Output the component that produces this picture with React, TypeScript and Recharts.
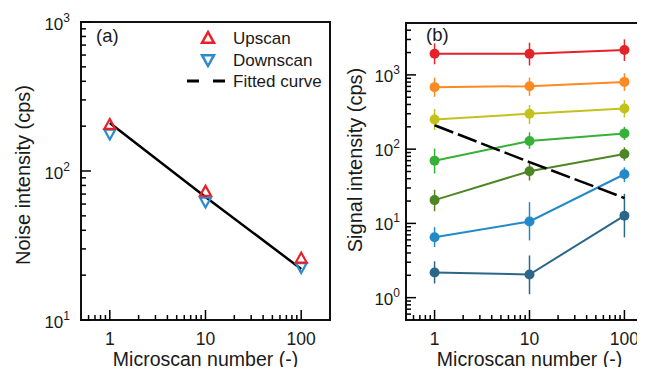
import React from 'react';
import { ComposedChart, Line, XAxis, YAxis, ReferenceArea, ErrorBar, Legend } from 'recharts';

const FONT = '"Liberation Sans", Arial, Helvetica, sans-serif';
const INK = '#1a1a1a';

// microscan numbers (x for both panels)
const scans = [1, 10, 100];

// panel (a): noise intensity
const noiseUp = [205, 73, 26];
const noiseDown = [177, 62, 22.5];
const fitted = [210, 67, 22];

// panel (b): signal intensity, errors as [minus, plus]
const sigRed = [1930, 1920, 2170];
const sigRedErr = [[540, 730], [580, 790], [630, 840]];
const sigOrange = [684, 705, 805];
const sigOrangeErr = [[177, 236], [183, 215], [195, 249]];
const sigYellow = [251, 300, 353];
const sigYellowErr = [[70, 96], [82, 92], [86, 104]];
const sigGreen = [70, 129, 163];
const sigGreenErr = [[23, 32], [28, 39], [30, 37]];
const sigOlive = [20.6, 50.4, 86];
const sigOliveErr = [[6, 7.8], [12.6, 16.1], [16, 20]];
const sigBlue = [6.5, 10.6, 45.9];
const sigBlueErr = [[1.7, 2.4], [4.7, 8.7], [10, 11]];
const sigTeal = [2.18, 2.05, 12.7];
const sigTealErr = [[0.63, 0.91], [0.94, 1.65], [6.2, 12.3]];

// ticks
const xTicks = [0.6, 0.7, 0.8, 0.9, 1, 2, 3, 4, 5, 6, 7, 8, 9, 10, 20, 30, 40, 50, 60, 70, 80, 90, 100];
const xMajor = [1, 10, 100];
const noiseTicks = [10, 20, 30, 40, 50, 60, 70, 80, 90, 100, 200, 300, 400, 500, 600, 700, 800, 900, 1000];
const noiseMajor = [10, 100, 1000];
const signalTicks = [
  0.6, 0.7, 0.8, 0.9, 1, 2, 3, 4, 5, 6, 7, 8, 9, 10, 20, 30, 40, 50, 60, 70, 80, 90,
  100, 200, 300, 400, 500, 600, 700, 800, 900, 1000, 2000, 3000, 4000,
];
const signalMajor = [1, 10, 100, 1000];

const signalLines = [
  { key: 'red', color: '#e3222a', values: sigRed, err: sigRedErr },
  { key: 'orange', color: '#fb8a22', values: sigOrange, err: sigOrangeErr },
  { key: 'yellow', color: '#c3c21c', values: sigYellow, err: sigYellowErr },
  { key: 'green', color: '#36b036', values: sigGreen, err: sigGreenErr },
  { key: 'olive', color: '#4e8626', values: sigOlive, err: sigOliveErr },
  { key: 'blue', color: '#2389c9', values: sigBlue, err: sigBlueErr },
  { key: 'teal', color: '#2c6689', values: sigTeal, err: sigTealErr },
];

const noiseRows = scans.map((x, i) => ({ x, up: noiseUp[i], down: noiseDown[i], fit: fitted[i] }));

const signalRows = scans.map((x, i) => {
  const row: any = { x, fit: fitted[i] };
  signalLines.forEach((s) => {
    row[s.key] = s.values[i];
    row[s.key + 'Err'] = s.err[i];
  });
  return row;
});

const RED = '#e8202a';
const BLUE = '#2a8ccd';

function XTick(props: any) {
  const { x, y, payload } = props;
  const v = payload.value;
  const major = xMajor.includes(v);
  return (
    <g>
      <line x1={x} x2={x} y1={y} y2={y - (major ? 10 : 5)} stroke="#000" strokeWidth={1.5} />
      {major && (
        <text x={x} y={y + 25} textAnchor="middle" fontSize={17.5} fontFamily={FONT} fill={INK}>
          {v}
        </text>
      )}
    </g>
  );
}

function yTick(majors: number[], gap: number, drop: number) {
  return (props: any) => {
    const { x, y, payload } = props;
    const v = payload.value;
    const major = majors.includes(v);
    const exp = Math.round(Math.log10(v));
    return (
      <g>
        <line x1={x} x2={x + (major ? 10 : 5)} y1={y} y2={y} stroke="#000" strokeWidth={1.5} />
        {major && (
          <text x={x - gap} y={y + drop} textAnchor="end" fontSize={17} fontFamily={FONT} fill={INK}>
            10
            <tspan dy={-8} fontSize={12}>
              {exp}
            </tspan>
          </text>
        )}
      </g>
    );
  };
}

function Title({ px, py, text, rotate, size = 20 }: any) {
  return (
    <text
      x={px}
      y={py}
      textAnchor="middle"
      transform={rotate ? `rotate(-90 ${px} ${py})` : undefined}
      fontSize={size}
      fontFamily={FONT}
      fill={INK}
    >
      {text}
    </text>
  );
}

function Tag({ px, py, text }: any) {
  return (
    <text x={px} y={py} fontSize={18.5} fontFamily={FONT} fill={INK}>
      {text}
    </text>
  );
}

const upPath = (cx: number, cy: number, s = 5.5) =>
  `M${cx},${cy - s}L${cx - s},${cy + s * 0.8}L${cx + s},${cy + s * 0.8}Z`;
const downPath = (cx: number, cy: number, s = 5.5) =>
  `M${cx - s},${cy - s * 0.8}L${cx + s},${cy - s * 0.8}L${cx},${cy + s}Z`;

function NoiseLegend() {
  return (
    <svg width={150} height={70} style={{ display: 'block' }}>
      <path d={upPath(28, 13, 6)} fill="none" stroke={RED} strokeWidth={2.5} />
      <text x={53} y={19} fontSize={17} fontFamily={FONT} fill={INK}>Upscan</text>
      <path d={downPath(28, 35, 6)} fill="none" stroke={BLUE} strokeWidth={2.5} />
      <text x={53} y={41} fontSize={17} fontFamily={FONT} fill={INK}>Downscan</text>
      <line x1={7} x2={46} y1={56} y2={56} stroke="#000" strokeWidth={3} strokeDasharray="12 14" />
      <text x={53} y={62} fontSize={17} fontFamily={FONT} fill={INK}>Fitted curve</text>
    </svg>
  );
}

export default function App() {
  return (
    <div style={{ position: 'relative', width: 645, height: 375, margin: -8, overflow: 'hidden', background: '#fff' }}>
      <div style={{ position: 'absolute', left: 0, top: 0 }}>
        <ComposedChart width={340} height={375} data={noiseRows} margin={{ top: 22, right: 10, bottom: 0, left: 0 }}>
          <XAxis
            dataKey="x"
            type="number"
            scale="log"
            domain={[0.5, 200]}
            ticks={xTicks}
            interval={0}
            tick={XTick}
            tickSize={0}
            tickMargin={0}
            tickLine={false}
            axisLine={false}
            height={55}
            allowDataOverflow
            label={<Title px={205.5} py={366} size={19.5} text="Microscan number (-)" />}
          />
          <YAxis
            type="number"
            scale="log"
            domain={[10, 1000]}
            ticks={noiseTicks}
            interval={0}
            tick={yTick(noiseMajor, 11, 8)}
            tickSize={0}
            tickMargin={0}
            tickLine={false}
            axisLine={false}
            width={81}
            allowDataOverflow
            label={<Title px={29.5} py={175} rotate text="Noise intensity (cps)" />}
          />
          <ReferenceArea
            x1={0.5}
            x2={200}
            y1={10}
            y2={1000}
            fill="none"
            stroke="#111"
            strokeWidth={2}
            label={<Tag px={96} py={42} text="(a)" />}
          />
          <Line
            dataKey="down"
            stroke="none"
            isAnimationActive={false}
            dot={(p: any) => (
              <path key={`d${p.index}`} d={downPath(p.cx, p.cy)} fill="none" stroke={BLUE} strokeWidth={2.2} />
            )}
          />
          <Line
            dataKey="up"
            stroke="none"
            isAnimationActive={false}
            dot={(p: any) => (
              <path key={`u${p.index}`} d={upPath(p.cx, p.cy)} fill="none" stroke={RED} strokeWidth={2.2} />
            )}
          />
          <Line
            dataKey="fit"
            stroke="#000"
            strokeWidth={2.5}
            dot={false}
            isAnimationActive={false}
          />
          <Legend
            layout="vertical"
            verticalAlign="middle"
            align="center"
            content={() => <NoiseLegend />}
            wrapperStyle={{ left: 180, top: 25, width: 150, height: 70 }}
          />
        </ComposedChart>
      </div>
      <div style={{ position: 'absolute', left: 320, top: 0 }}>
        <ComposedChart width={343} height={375} data={signalRows} margin={{ top: 23, right: 10, bottom: 0, left: 0 }}>
          <XAxis
            dataKey="x"
            type="number"
            scale="log"
            domain={[0.5, 200]}
            ticks={xTicks}
            interval={0}
            tick={XTick}
            tickSize={0}
            tickMargin={0}
            tickLine={false}
            axisLine={false}
            height={55}
            allowDataOverflow
            label={<Title px={209.5} py={366} size={19.5} text="Microscan number (-)" />}
          />
          <YAxis
            type="number"
            scale="log"
            domain={[0.5, 5000]}
            ticks={signalTicks}
            interval={0}
            tick={yTick(signalMajor, 6, 7)}
            tickSize={0}
            tickMargin={0}
            tickLine={false}
            axisLine={false}
            width={86}
            allowDataOverflow
            label={<Title px={42} py={160} rotate text="Signal intensity (cps)" />}
          />
          <ReferenceArea
            x1={0.5}
            x2={200}
            y1={0.5}
            y2={5000}
            fill="none"
            stroke="#111"
            strokeWidth={2}
            label={<Tag px={106} py={41} text="(b)" />}
          />
          {signalLines.map((s) => (
            <Line
              key={s.key}
              dataKey={s.key}
              stroke={s.color}
              strokeWidth={2}
              dot={{ r: 5, fill: s.color, stroke: s.color, strokeWidth: 0 }}
              isAnimationActive={false}
            >
              <ErrorBar dataKey={s.key + 'Err'} direction="y" width={0} stroke={s.color} strokeWidth={1.5} isAnimationActive={false} />
            </Line>
          ))}
          <Line
            dataKey="fit"
            stroke="#000"
            strokeWidth={2.5}
            strokeDasharray="20 5"
            dot={false}
            isAnimationActive={false}
          />
        </ComposedChart>
      </div>
    </div>
  );
}
